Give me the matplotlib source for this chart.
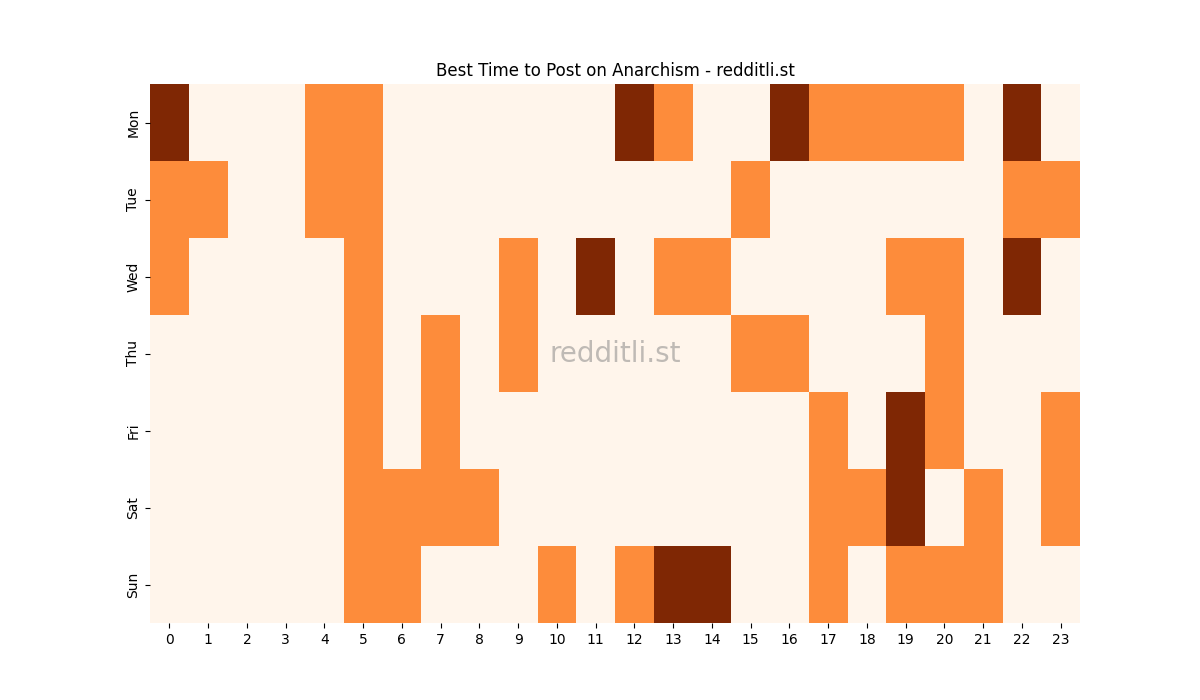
import numpy as np
import matplotlib
matplotlib.use("Agg")
import matplotlib.pyplot as plt
import seaborn as sns

# ── Data: posting score per weekday/hour (0 = low, 1 = mid, 2 = best) ─────────
days = ["Mon", "Tue", "Wed", "Thu", "Fri", "Sat", "Sun"]
hours = list(range(24))

mon = [2, 0, 0, 0, 1, 1, 0, 0, 0, 0, 0, 0, 2, 1, 0, 0, 2, 1, 1, 1, 1, 0, 2, 0]
tue = [1, 1, 0, 0, 1, 1, 0, 0, 0, 0, 0, 0, 0, 0, 0, 1, 0, 0, 0, 0, 0, 0, 1, 1]
wed = [1, 0, 0, 0, 0, 1, 0, 0, 0, 1, 0, 2, 0, 1, 1, 0, 0, 0, 0, 1, 1, 0, 2, 0]
thu = [0, 0, 0, 0, 0, 1, 0, 1, 0, 1, 0, 0, 0, 0, 0, 1, 1, 0, 0, 0, 1, 0, 0, 0]
fri = [0, 0, 0, 0, 0, 1, 0, 1, 0, 0, 0, 0, 0, 0, 0, 0, 0, 1, 0, 2, 1, 0, 0, 1]
sat = [0, 0, 0, 0, 0, 1, 1, 1, 1, 0, 0, 0, 0, 0, 0, 0, 0, 1, 1, 2, 0, 1, 0, 1]
sun = [0, 0, 0, 0, 0, 1, 1, 0, 0, 0, 1, 0, 1, 2, 2, 0, 0, 1, 0, 1, 1, 1, 0, 0]

grid = np.array([mon, tue, wed, thu, fri, sat, sun])

# ── Plot ──────────────────────────────────────────────────────────────────────
fig, ax = plt.subplots(figsize=(12, 7), dpi=100)
sns.heatmap(grid, cmap="Oranges", vmin=0, vmax=2, cbar=False,
            xticklabels=hours, yticklabels=days, ax=ax)
ax.set_yticklabels(days, rotation=90, va="center")
ax.set_xticklabels(hours, rotation=0)
ax.set_title("Best Time to Post on Anarchism - redditli.st")

# watermark
ax.text(0.5, 0.5, "redditli.st", transform=ax.transAxes, fontsize=20,
        color="gray", alpha=0.5, ha="center", va="center")

plt.savefig("out.png", dpi=100)
